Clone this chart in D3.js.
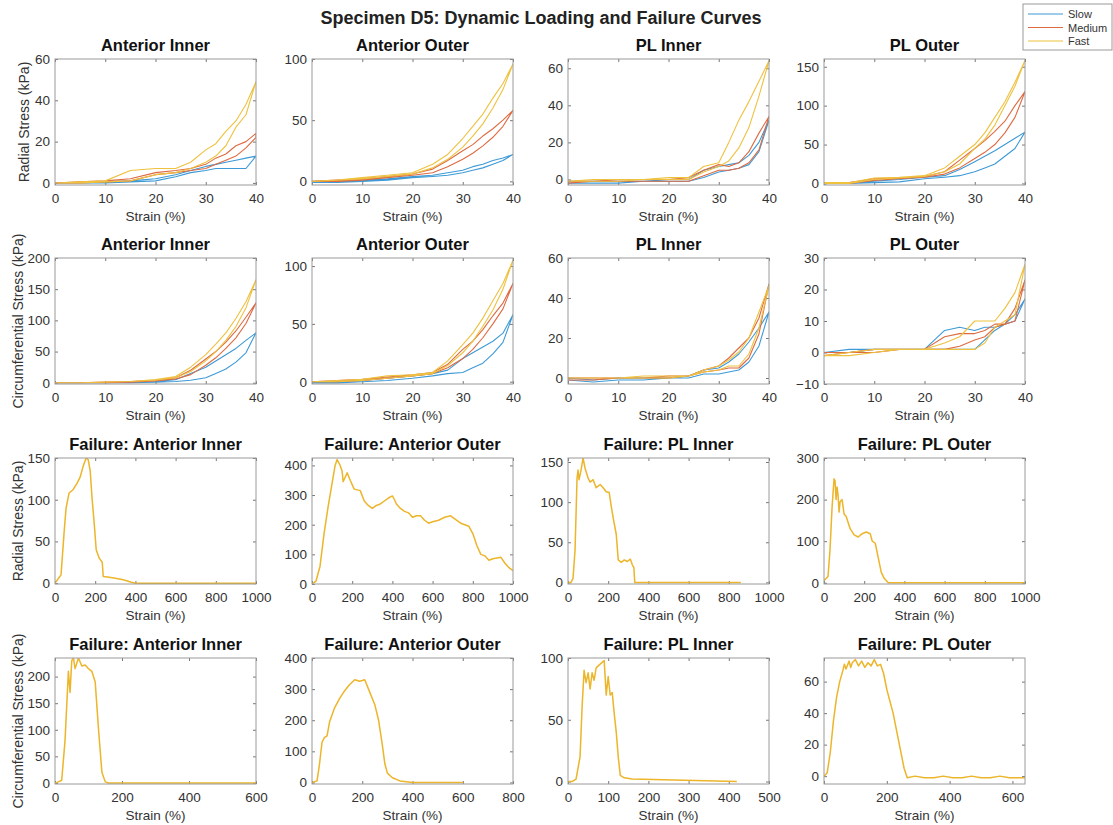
<!DOCTYPE html>
<html>
<head>
<meta charset="utf-8">
<script src="https://cdn.jsdelivr.net/npm/d3@7"></script>
<style>
  html, body { margin: 0; padding: 0; background: #fff; }
  svg { display: block; font-family: "Liberation Sans", Arial, Helvetica, sans-serif; }
  .tick text { fill: #333; font-size: 13.5px; }
  .domain { display: none; }
  .tick line { stroke: #777; }
</style>
</head>
<body>
<svg id="chart" width="1113" height="825"></svg>
<script>
// ---- Series labels and colours ----
const speeds = ["Slow", "Medium", "Fast"];
const speedColors = ["#3d9ad6", "#de6a42", "#eec13f"];
const failureColor = "#ecb52a";

// ---- Loading curves: strain grid (%) shared by every loading branch ----
const strainGrid = [0, 5, 10, 15, 20, 24, 27, 30, 32, 34, 36, 38, 40];

// Each speed holds [loading branch, unloading branch] in kPa on strainGrid
const radAntInner = {
  Slow:   [[0, 0, 0.5, 1, 2, 4, 6, 8, 9, 10, 11, 12, 13], [0, 0, 0, 0.5, 1, 3, 5, 6, 7, 7, 7, 7, 13]],
  Medium: [[0, 0.5, 1, 2, 5, 6, 7, 9, 12, 14, 18, 20, 24], [0, 0, 0.5, 1, 4, 5, 6, 7, 9, 11, 13, 17, 22]],
  Fast:   [[0, 0.5, 1, 6, 7, 7, 10, 16, 19, 25, 30, 38, 49], [0, 0, 0.5, 1, 4, 5, 7, 10, 13, 18, 27, 33, 49]]
};
const radAntOuter = {
  Slow:   [[0, 0, 1, 2, 4, 5, 7, 9, 12, 14, 17, 19, 22], [-1, -1, 0, 1, 3, 4, 5, 7, 9, 11, 14, 17, 22]],
  Medium: [[0, 1, 2, 4, 6, 10, 17, 25, 30, 37, 43, 50, 58], [0, 0, 1, 3, 5, 7, 12, 18, 23, 29, 36, 45, 58]],
  Fast:   [[0, 1, 3, 5, 7, 14, 22, 35, 45, 55, 68, 80, 96], [0, 1, 2, 4, 6, 11, 18, 28, 37, 47, 60, 75, 96]]
};
const radPLInner = {
  Slow:   [[-1, -1, -1, -1, 0, 0, 5, 7, 8, 9, 13, 20, 32], [-2, -2, -2, -1, -1, -1, 1, 4, 5, 6, 8, 15, 32]],
  Medium: [[-1, -1, 0, 0, 0, 1, 5, 8, 7, 9, 15, 25, 34], [-2, -1, -1, -1, -1, -1, 2, 5, 5, 6, 9, 16, 34]],
  Fast:   [[-1, 0, 0, 0, 1, 1, 7, 9, 20, 32, 42, 53, 64], [-1, -1, -1, 0, 0, 0, 4, 7, 10, 17, 28, 45, 64]]
};
const radPLOuter = {
  Slow:   [[0, 0, 3, 5, 8, 10, 18, 28, 35, 42, 50, 58, 66], [0, 0, 1, 2, 6, 8, 10, 15, 20, 25, 35, 45, 66]],
  Medium: [[1, 1, 6, 7, 9, 15, 30, 45, 55, 67, 80, 100, 118], [0, 0, 4, 6, 8, 12, 20, 32, 40, 50, 65, 85, 118]],
  Fast:   [[1, 1, 7, 8, 10, 20, 35, 50, 65, 85, 105, 130, 158], [0, 0, 5, 7, 9, 15, 25, 45, 57, 75, 100, 125, 158]]
};
const circAntInner = {
  Slow:   [[0, 0, 0, 1, 2, 5, 15, 25, 35, 45, 55, 68, 80], [0, 0, 0, 0, 1, 2, 4, 8, 15, 22, 33, 48, 80]],
  Medium: [[0, 0, 1, 2, 4, 8, 20, 38, 50, 65, 83, 105, 128], [0, 0, 0, 1, 3, 6, 13, 28, 40, 55, 72, 95, 128]],
  Fast:   [[0, 0, 1, 2, 5, 10, 25, 45, 62, 80, 103, 130, 165], [0, 0, 1, 2, 4, 8, 18, 35, 50, 68, 90, 120, 165]]
};
const circAntOuter = {
  Slow:   [[0, 0, 1, 3, 5, 7, 10, 20, 25, 30, 35, 42, 58], [-1, -1, 0, 1, 3, 5, 7, 8, 12, 16, 24, 34, 58]],
  Medium: [[0, 1, 2, 4, 6, 8, 15, 28, 35, 45, 57, 68, 85], [0, 0, 1, 3, 5, 7, 12, 20, 28, 38, 50, 63, 85]],
  Fast:   [[0, 1, 2, 5, 6, 8, 18, 32, 42, 55, 70, 85, 105], [0, 0, 1, 3, 5, 7, 14, 25, 35, 48, 62, 80, 105]]
};
const circPLInner = {
  Slow:   [[0, -1, 0, 0, 0, 1, 4, 5, 8, 12, 18, 25, 33], [-1, -2, -1, -1, 0, 0, 2, 2, 3, 4, 8, 16, 33]],
  Medium: [[0, 0, 0, 0, 1, 1, 4, 6, 10, 15, 20, 30, 47], [-1, -1, 0, 0, 0, 1, 3, 4, 5, 5, 10, 22, 47]],
  Fast:   [[0, 0, 0, 1, 1, 1, 4, 6, 9, 13, 20, 33, 46], [0, 0, 0, 0, 0, 1, 3, 4, 6, 6, 12, 25, 46]]
};
const circPLOuter = {
  Slow:   [[0, 1, 1, 1, 1, 7, 8, 7, 8, 8, 9, 12, 17], [0, 0, 1, 1, 1, 1, 1, 1, 4, 7, 9, 10, 17]],
  Medium: [[0, 0, 1, 1, 1, 5, 6, 6, 7, 9, 9, 14, 23], [-1, 0, 0, 1, 1, 1, 2, 4, 5, 8, 9, 10, 23]],
  Fast:   [[-1, 0, 1, 1, 1, 3, 5, 10, 10, 10, 14, 19, 28], [-1, -1, 0, 1, 1, 1, 1, 1, 3, 8, 10, 12, 28]]
};

// ---- Failure curves: [strain %, stress kPa] ----
const failRadAntInner = [[0,0],[15,5],[30,10],[45,60],[55,90],[70,108],[90,112],[110,120],[125,127],[140,140],[155,150],[165,148],[175,135],[185,100],[195,72],[205,40],[220,30],[235,25],[240,8],[270,7],[300,6],[340,4],[380,1],[400,0],[1000,0]];
const failRadAntOuter = [[0,0],[20,10],[40,60],[60,170],[80,260],[100,340],[115,400],[125,420],[140,400],[150,380],[155,345],[165,360],[175,375],[190,350],[210,320],[240,315],[260,280],[280,265],[300,255],[320,265],[340,270],[360,280],[380,290],[400,297],[410,285],[420,270],[440,255],[460,245],[480,240],[500,225],[520,230],[540,230],[560,215],[580,205],[600,210],[630,215],[660,225],[690,230],[710,220],[740,205],[780,195],[800,170],[820,130],[840,100],[860,95],[880,80],[900,85],[940,90],[960,70],[980,55],[1000,45]];
const failRadPLInner = [[0,0],[15,0],[25,5],[35,40],[45,130],[50,140],[55,128],[65,140],[75,155],[85,142],[100,130],[110,125],[125,128],[140,118],[160,122],[175,118],[190,113],[205,112],[215,95],[225,80],[240,60],[250,28],[265,25],[280,28],[295,26],[310,29],[320,22],[328,18],[332,0],[860,0]];
const failRadPLOuter = [[0,5],[10,10],[20,15],[30,80],[40,180],[50,250],[55,245],[60,200],[65,230],[70,210],[75,170],[80,195],[90,200],[100,165],[110,160],[130,130],[150,115],[170,110],[190,118],[210,122],[230,118],[240,100],[255,95],[270,60],[285,25],[300,10],[320,0],[1000,0]];
const failCircAntInner = [[0,0],[10,2],[20,5],[30,80],[40,210],[45,170],[50,230],[55,235],[60,215],[70,235],[80,220],[90,222],[100,215],[110,210],[120,190],[130,100],[140,20],[150,2],[160,0],[600,0]];
const failCircAntOuter = [[0,0],[20,5],[30,60],[40,130],[50,145],[60,150],[70,195],[90,240],[110,270],[130,295],[150,315],[170,330],[190,325],[210,330],[225,300],[240,270],[250,250],[265,200],[280,120],[290,60],[300,30],[320,15],[350,5],[400,0],[600,0]];
const failCircPLInner = [[0,0],[10,0],[20,2],[30,20],[35,60],[40,90],[45,80],[50,88],[55,75],[60,88],[65,82],[70,92],[80,95],[90,98],[95,70],[100,85],[105,70],[110,72],[115,55],[120,40],[125,20],[130,5],[140,3],[160,2],[420,0]];
const failCircPLOuter = [[0,0],[10,2],[20,15],[30,35],[40,50],[50,60],[60,67],[65,71],[70,68],[80,73],[85,69],[90,72],[100,74],[110,70],[120,73],[130,69],[140,72],[150,70],[160,74],[170,70],[180,71],[190,65],[200,55],[220,40],[240,20],[255,5],[265,-1],[290,0],[320,-1],[350,-1],[380,0],[410,-1],[440,-1],[470,0],[500,-1],[530,-1],[560,0],[590,-1],[620,-1],[640,-1]];

// ---- Titles and tick values ----
const mainTitle = "Specimen D5: Dynamic Loading and Failure Curves";
const regionTitles = ["Anterior Inner", "Anterior Outer", "PL Inner", "PL Outer"];
const loadStrainTicks = [0, 10, 20, 30, 40];

const panels = [
  // row 0: radial loading
  { r: 0, c: 0, title: regionTitles[0], xd: [0, 40], xt: loadStrainTicks, yd: [-1, 60], yt: [0, 20, 40, 60], loops: radAntInner },
  { r: 0, c: 1, title: regionTitles[1], xd: [0, 40], xt: loadStrainTicks, yd: [-3, 100], yt: [0, 50, 100], loops: radAntOuter },
  { r: 0, c: 2, title: regionTitles[2], xd: [0, 40], xt: loadStrainTicks, yd: [-3, 65], yt: [0, 20, 40, 60], loops: radPLInner },
  { r: 0, c: 3, title: regionTitles[3], xd: [0, 40], xt: loadStrainTicks, yd: [-2, 160], yt: [0, 50, 100, 150], loops: radPLOuter },
  // row 1: circumferential loading
  { r: 1, c: 0, title: regionTitles[0], xd: [0, 40], xt: loadStrainTicks, yd: [-2, 200], yt: [0, 50, 100, 150, 200], loops: circAntInner },
  { r: 1, c: 1, title: regionTitles[1], xd: [0, 40], xt: loadStrainTicks, yd: [-2, 107], yt: [0, 50, 100], loops: circAntOuter },
  { r: 1, c: 2, title: regionTitles[2], xd: [0, 40], xt: loadStrainTicks, yd: [-3, 60], yt: [0, 20, 40, 60], loops: circPLInner },
  { r: 1, c: 3, title: regionTitles[3], xd: [0, 40], xt: loadStrainTicks, yd: [-10, 30], yt: [-10, 0, 10, 20, 30], loops: circPLOuter },
  // row 2: radial failure
  { r: 2, c: 0, title: "Failure: " + regionTitles[0], xd: [0, 1000], xt: [0, 200, 400, 600, 800, 1000], yd: [-1, 150], yt: [0, 50, 100, 150], fail: failRadAntInner },
  { r: 2, c: 1, title: "Failure: " + regionTitles[1], xd: [0, 1000], xt: [0, 200, 400, 600, 800, 1000], yd: [0, 425], yt: [0, 100, 200, 300, 400], fail: failRadAntOuter },
  { r: 2, c: 2, title: "Failure: " + regionTitles[2], xd: [0, 1000], xt: [0, 200, 400, 600, 800, 1000], yd: [-2, 155], yt: [0, 50, 100, 150], fail: failRadPLInner },
  { r: 2, c: 3, title: "Failure: " + regionTitles[3], xd: [0, 1000], xt: [0, 200, 400, 600, 800, 1000], yd: [-3, 300], yt: [0, 100, 200, 300], fail: failRadPLOuter },
  // row 3: circumferential failure
  { r: 3, c: 0, title: "Failure: " + regionTitles[0], xd: [0, 600], xt: [0, 200, 400, 600], yd: [-2, 235], yt: [0, 50, 100, 150, 200], fail: failCircAntInner },
  { r: 3, c: 1, title: "Failure: " + regionTitles[1], xd: [0, 800], xt: [0, 200, 400, 600, 800], yd: [-5, 400], yt: [0, 100, 200, 300, 400], fail: failCircAntOuter },
  { r: 3, c: 2, title: "Failure: " + regionTitles[2], xd: [0, 500], xt: [0, 100, 200, 300, 400, 500], yd: [-2, 100], yt: [0, 50, 100], fail: failCircPLInner },
  { r: 3, c: 3, title: "Failure: " + regionTitles[3], xd: [0, 640], xt: [0, 200, 400, 600], yd: [-5, 75], yt: [0, 20, 40, 60], fail: failCircPLOuter }
];
const rowYLabels = ["Radial Stress (kPa)", "Circumferential Stress (kPa)", "Radial Stress (kPa)", "Circumferential Stress (kPa)"];

// ---- Layout ----
const colX = [55, 312, 568, 824];
const rowY = [59, 258, 458, 658];
const pw = 201, ph = 126;
const yLabelOffset = [-26.5, -32, -32, -32];

const svg = d3.select("#chart");

svg.append("text")
  .attr("x", 541).attr("y", 24)
  .attr("text-anchor", "middle")
  .attr("font-size", 18).attr("font-weight", "bold").attr("fill", "#222")
  .text(mainTitle);

panels.forEach((p, i) => {
  const g = svg.append("g").attr("transform", `translate(${colX[p.c]},${rowY[p.r]})`);
  const x = d3.scaleLinear().domain(p.xd).range([0, pw]);
  const y = d3.scaleLinear().domain(p.yd).range([ph, 0]);

  // clip for data
  const clipId = "clip" + i;
  g.append("clipPath").attr("id", clipId)
    .append("rect").attr("width", pw).attr("height", ph);

  // inward ticks on all four sides
  g.append("g").attr("transform", `translate(0,${ph})`)
    .call(d3.axisBottom(x).tickValues(p.xt).tickSize(-3).tickPadding(8).tickFormat(d3.format("d")));
  g.append("g")
    .call(d3.axisTop(x).tickValues(p.xt).tickSize(-3).tickFormat(""));
  g.append("g")
    .call(d3.axisLeft(y).tickValues(p.yt).tickSize(-3).tickPadding(5).tickFormat(d3.format("d")));
  g.append("g").attr("transform", `translate(${pw},0)`)
    .call(d3.axisRight(y).tickValues(p.yt).tickSize(-3).tickFormat(""));

  const line = d3.line().x(d => x(d[0])).y(d => y(d[1]));
  const dataG = g.append("g").attr("clip-path", `url(#${clipId})`);

  if (p.loops) {
    speeds.forEach((s, k) => {
      const [up, down] = p.loops[s];
      const pts = strainGrid.map((sx, j) => [sx, up[j]])
        .concat(strainGrid.map((sx, j) => [sx, down[j]]).reverse());
      dataG.append("path")
        .attr("d", line(pts))
        .attr("fill", "none")
        .attr("stroke", speedColors[k])
        .attr("stroke-width", 1.1)
        .attr("stroke-linejoin", "round");
    });
  } else {
    dataG.append("path")
      .attr("d", line(p.fail))
      .attr("fill", "none")
      .attr("stroke", failureColor)
      .attr("stroke-width", 1.5)
      .attr("stroke-linejoin", "round");
  }

  // axes box
  g.append("rect").attr("width", pw).attr("height", ph)
    .attr("fill", "none").attr("stroke", "#9a9a9a").attr("stroke-width", 1);

  // panel title
  g.append("text")
    .attr("x", pw / 2).attr("y", -8)
    .attr("text-anchor", "middle")
    .attr("font-size", 16.5).attr("font-weight", "bold").attr("fill", "#111")
    .text(p.title);

  // x label
  g.append("text")
    .attr("x", pw / 2).attr("y", ph + 36)
    .attr("text-anchor", "middle")
    .attr("font-size", 13.5).attr("fill", "#333")
    .text("Strain (%)");

  // y label on first column
  if (p.c === 0) {
    g.append("text")
      .attr("transform", `translate(${yLabelOffset[p.r]},${ph / 2}) rotate(-90)`)
      .attr("text-anchor", "middle")
      .attr("font-size", 14).attr("fill", "#333")
      .text(rowYLabels[p.r]);
  }
});

// ---- Legend ----
const leg = svg.append("g").attr("transform", "translate(1023,4)");
leg.append("rect").attr("width", 89).attr("height", 46)
  .attr("fill", "#fff").attr("stroke", "#9a9a9a");
speeds.forEach((s, k) => {
  const ly = 10 + k * 13.5;
  leg.append("line").attr("x1", 5).attr("x2", 40).attr("y1", ly).attr("y2", ly)
    .attr("stroke", speedColors[k]).attr("stroke-width", 1.1);
  leg.append("text").attr("x", 45).attr("y", ly + 4)
    .attr("font-size", 11).attr("fill", "#333").text(s);
});
</script>
</body>
</html>
